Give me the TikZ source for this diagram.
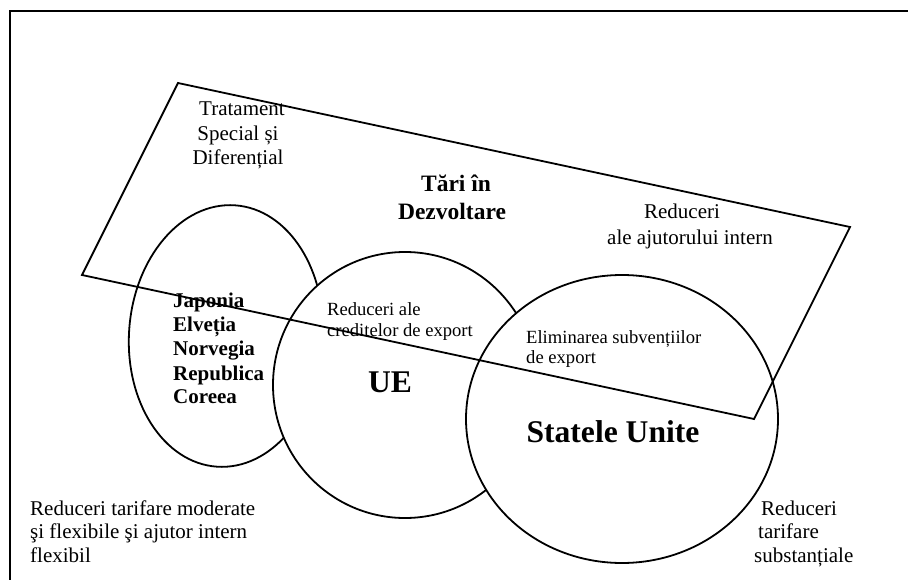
\documentclass[tikz,border=0pt]{standalone}
\usepackage{fontspec}
\setmainfont{Liberation Serif}
\begin{document}
\begin{tikzpicture}[x=1pt,y=-1pt,
  blob/.style={line width=1.8pt, fill=white},
  reg/.style={font=\fontsize{21}{24}\selectfont, inner sep=0pt},
  regs/.style={font=\fontsize{18.6}{21}\selectfont, inner sep=0pt},
  bld/.style={font=\fontsize{21}{24}\selectfont\bfseries, inner sep=0pt},
  bldm/.style={font=\fontsize{23.5}{27}\selectfont\bfseries, inner sep=0pt},
  big/.style={font=\fontsize{31.6}{36}\selectfont\bfseries, inner sep=0pt},
]
\useasboundingbox (0,0) rectangle (908,580);
% frame
\draw[line width=2.2pt] (10,580) -- (10,11) -- (908,11);
% circles
\draw[blob, rotate around={-4:(226,336)}] (226,336) ellipse [x radius=97, y radius=131];
\draw[blob] (405,385) ellipse [x radius=132, y radius=133];
\draw[blob] (622,419) ellipse [x radius=156, y radius=144];
% texts
\node[reg, anchor=base] (t1) at (242,116) {Tratament};
\node[reg, anchor=base] (t2) at (238,141) {Special și};
\node[reg, anchor=base] (t3) at (238,165) {Diferențial};
\node[bldm, anchor=base] (d1) at (456,192) {Tări în};
\node[bldm, anchor=base] (d2) at (452,220) {Dezvoltare};
\node[reg, anchor=base] (r1) at (682,219) {Reduceri};
\node[reg, anchor=base] (r2) at (690,245) {ale ajutorului intern};
\node[bld, anchor=base west] (j1) at (173,307) {Japonia};
\node[bld, anchor=base west] (j2) at (173,331) {Elveția};
\node[bld, anchor=base west] (j3) at (173,355) {Norvegia};
\node[bld, anchor=base west] (j4) at (173,380) {Republica};
\node[bld, anchor=base west] (j5) at (173,403) {Coreea};
\node[regs, anchor=base west] (c1) at (327,315) {Reduceri ale};
\node[regs, anchor=base west] (c2) at (327,336) {creditelor de export};
\node[regs, anchor=base west] (e1) at (526,343) {Eliminarea subvențiilor};
\node[regs, anchor=base west] (e2) at (526,363) {de export};
\node[big, anchor=base] (ue) at (390,392) {UE};
\node[big, anchor=base] (us) at (613,442) {Statele Unite};
\node[reg, anchor=base west] (m1) at (30,515) {Reduceri tarifare moderate};
\node[reg, anchor=base west] (m2) at (30,538) {şi flexibile şi ajutor intern};
\node[reg, anchor=base west] (m3) at (30,562) {flexibil};
\node[reg, anchor=base west] (s1) at (761,515) {Reduceri};
\node[reg, anchor=base west] (s2) at (758,538) {tarifare};
\node[reg, anchor=base west] (s3) at (754,562) {substanțiale};
% developing countries box
\draw[line width=1.8pt, line join=miter] (178,83) -- (850,227) -- (754,419) -- (82,275) -- cycle;
\end{tikzpicture}
\end{document}
